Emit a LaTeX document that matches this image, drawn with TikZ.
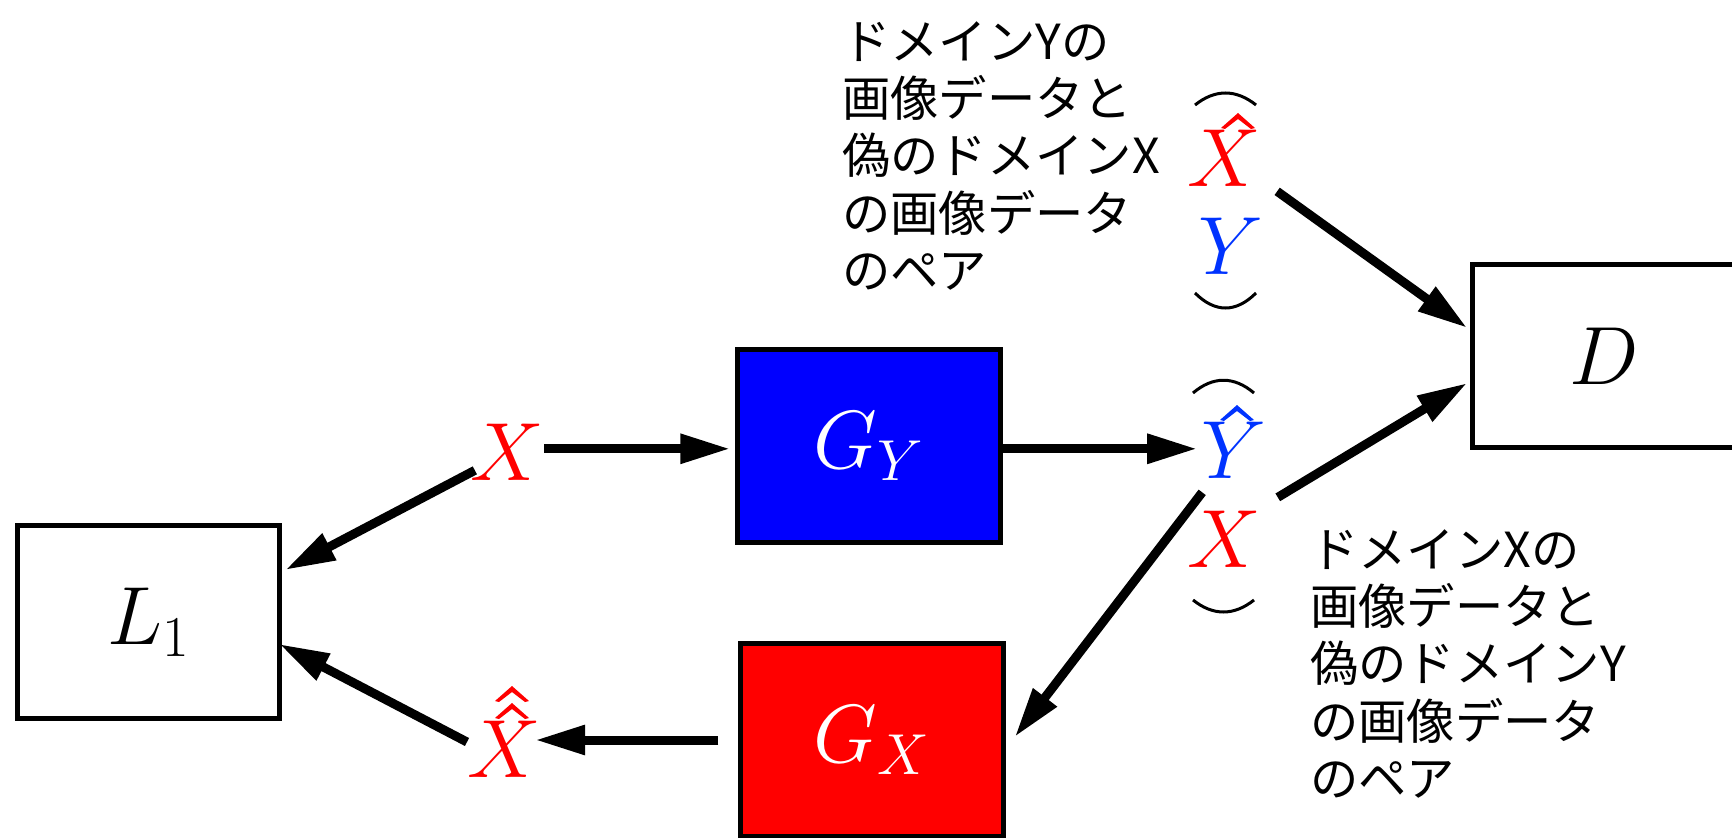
\RequirePackage{fix-cm}
\documentclass[tikz,border=0pt]{standalone}
\usepackage{amsmath}
\usepackage{fontspec}
\newfontfamily\jpfont{Noto Sans CJK JP}
\usetikzlibrary{arrows.meta,calc}
\definecolor{xred}{RGB}{255,0,0}
\definecolor{yblue}{RGB}{0,51,255}
\definecolor{gblue}{RGB}{0,0,255}

\begin{document}
\begin{tikzpicture}[x=0.02cm,y=-0.02cm,
	box/.style={draw,line width=0.1cm,minimum width=5.25cm,minimum height=3.86cm,
		font=\fontsize{47}{50}\selectfont},
	sym/.style={inner sep=0pt,anchor=base,font=\fontsize{47}{50}\selectfont},
	arr/.style={line width=0.18cm,-{Triangle[length=1cm,width=0.56cm]}},
	paren/.style={line width=0.06cm},
	hatmark/.pic={\fill (-17,0) -- (0,-15) -- (17,0) -- (13,1) -- (0,-9) -- (-13,1) -- cycle;},
	note/.style={anchor=north west,align=left,inner sep=0pt,
		font=\jpfont\fontsize{27.5}{32.6}\selectfont}]
	\useasboundingbox (0,0) rectangle (1732,838);

	% blocks
	\node[box] (lone) at (148.5,622) {$L_1$};
	\node[box,fill=gblue,text=white] (gy) at (869,446) {$G_Y$};
	\node[box,fill=xred,text=white] (gx) at (872,740) {$G_X$};
	\node[box,minimum height=3.66cm] (dnode) at (1604,356) {$D$};

	% symbols
	\node[sym,text=xred] (xin) at (507,480) {$X$};
	\node[sym,text=xred] (xhh) at (504,777) {$X$};
	\node[sym,text=xred] (xhat) at (1224,187) {$X$};
	\node[sym,text=yblue] (yone) at (1231,275) {$Y$};
	\node[sym,text=yblue] (yhat) at (1234,478) {$Y$};
	\node[sym,text=xred] (xtwo) at (1224,567) {$X$};

	% hats
	\path[xred] ($(xhh.base)+(8,-59)$) pic {hatmark} ($(xhh.base)+(8,-76)$) pic {hatmark};
	\path[xred] ($(xhat.base)+(14,-59)$) pic {hatmark};
	\path[yblue] ($(yhat.base)+(3,-58)$) pic {hatmark};

	% pairs
	\draw[paren] (1195,105) .. controls (1215,89) and (1236,89) .. (1256,105);
	\draw[paren] (1195,293) .. controls (1215,313) and (1236,313) .. (1256,293);
	\draw[paren] (1193,393) .. controls (1213,376) and (1234,376) .. (1254,393);
	\draw[paren] (1193,600) .. controls (1213,616) and (1234,616) .. (1254,600);

	\node[note] (noteone) at (842,21) {ドメインYの\\画像データと\\偽のドメインX\\の画像データ\\のペア};
	\node[note] (notetwo) at (1310,529) {ドメインXの\\画像データと\\偽のドメインY\\の画像データ\\のペア};

	% arrows
	\draw[arr] ($(xin.east)+(0,-3)$) -- ($(gy.west |- xin.east)+(-5,-3)$);
	\draw[arr] ($(gy.east |- xin.east)+(0,-3)$) -- ($(yhat.west |- xin.east)+(-4,-3)$);
	\draw[arr] ($(yhat.south west)+(1,14)$) -- ($(gx.east)+(9,-3)$);
	\draw[arr] ($(gx.west)+(-20,0)$) -- ($(gx.west -| xhh.east)+(-6,0)$);
	\draw[arr] ($(xin.south west)+(5,-10)$) -- ($(lone.east)+(3,-52)$);
	\draw[arr] ($(xhh.base)+(-37,-35)$) -- ($(lone.east)+(-3,22)$);
	\draw[arr] ($(xhat.south east)+(16,4)$) -- ($(dnode.west)+(-3,-28)$);
	\draw[arr] ($(yhat.south east)+(11,19)$) -- ($(dnode.west)+(-3,27)$);
\end{tikzpicture}
\end{document}
